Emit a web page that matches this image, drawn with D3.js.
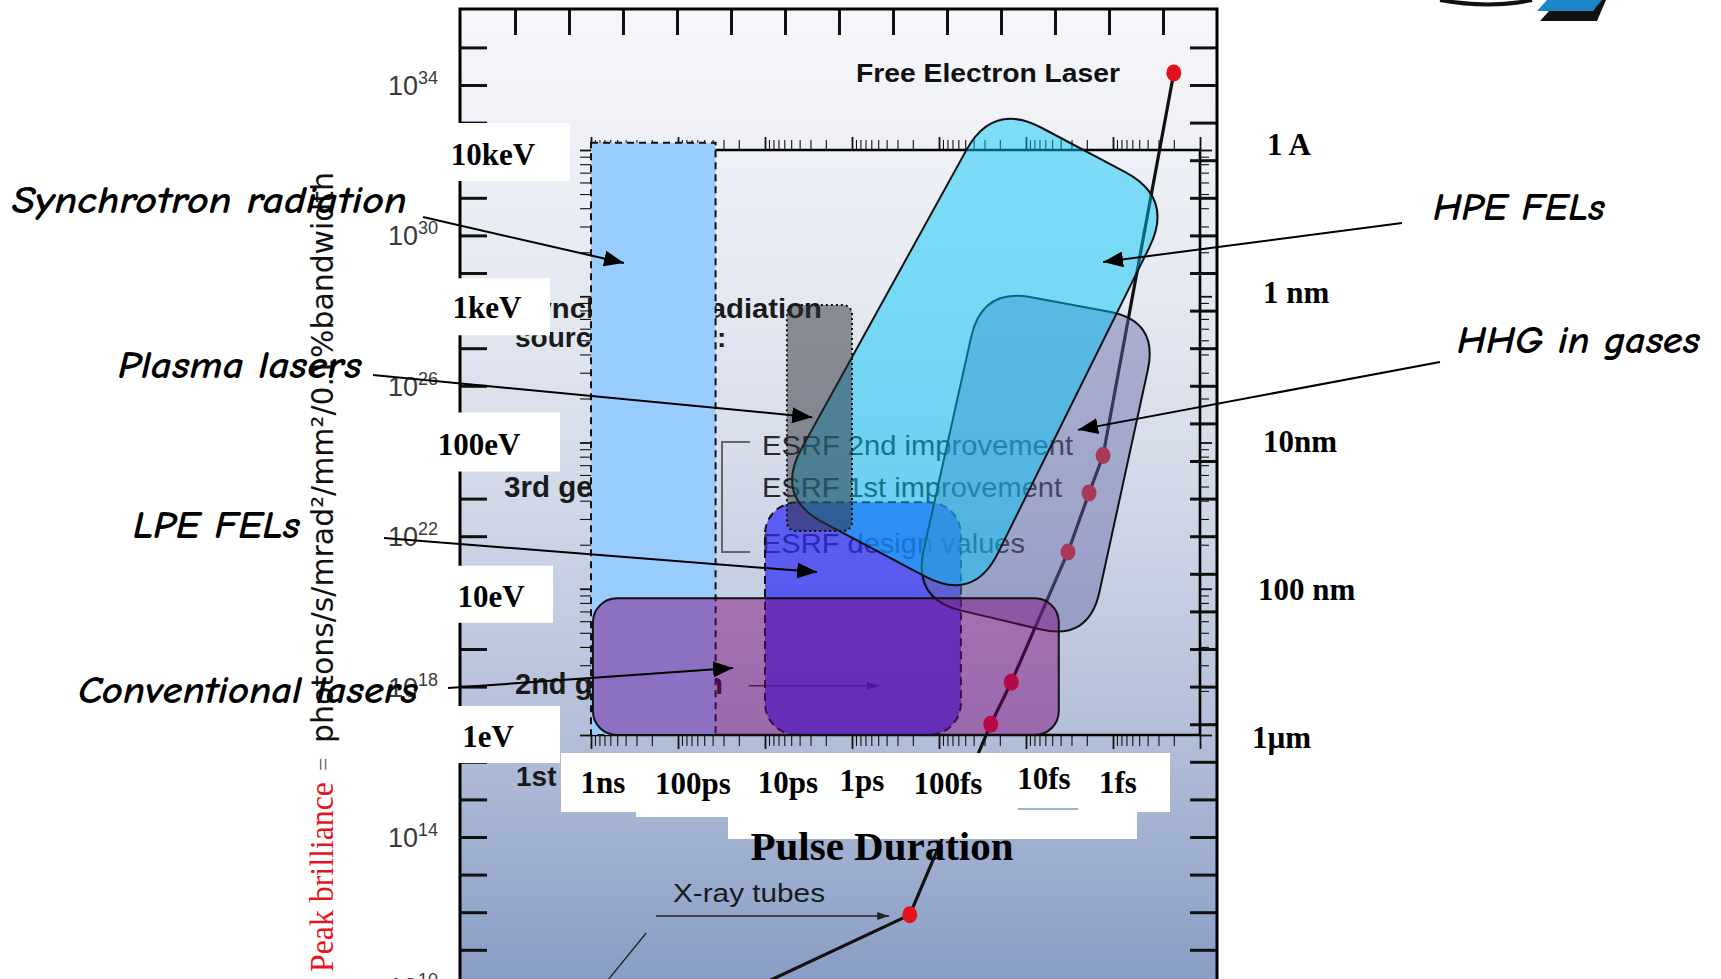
<!DOCTYPE html>
<html><head><meta charset="utf-8">
<script src="https://cdn.jsdelivr.net/npm/d3@7"></script>
<style>
html,body{margin:0;padding:0;background:#fff;}
svg{display:block;}
</style></head><body>
<svg id="chart" width="1721" height="979"></svg>
<script>
// ================= DATA =================
// Background chart (brilliance evolution) – unlabeled top ticks and decade ticks
const outerTickIdx = d3.range(1, 14);
const outerDecades = d3.range(11, 36);
const outerLabelExps = [34, 30, 26, 22, 18, 14, 10];

// brilliance line: points with dots (x = position index on the unlabeled axis, B = brilliance)
const brillPointX = [13.20, 11.89, 11.63, 11.24, 10.19, 9.81, 8.31];
const brillPointB = [2.1e34, 1.4e24, 1.4e23, 3.8e21, 1.3e18, 1.0e17, 8.5e11];
const brillTailX = [5.3];
const brillTailB = [8e9];
const xrayPointerX = [3.43, 2.57];
const xrayPointerB = [2.8e11, 8.5e9];
const xrayArrowX = [3.61, 7.93];
const xrayArrowB = [7.9e11, 7.9e11];
const gen2ArrowX = [5.33, 7.74];
const gen2ArrowB = [1.05e18, 1.05e18];

// Overlay chart axes
const durationTicks = [1e-9, 1e-10, 1e-11, 1e-12, 1e-13, 1e-14, 1e-15];
const durationLabels = ["1ns", "100ps", "10ps", "1ps", "100fs", "10fs", "1fs"];
const energyTicks = [1e4, 1e3, 1e2, 10, 1];
const energyLabels = ["10keV", "1keV", "100eV", "10eV", "1eV"];
const wavelengthTicks = [0.1, 1, 10, 100, 1000];           // nm
const wavelengthLabels = ["1 A", "1 nm", "10nm", "100 nm", "1µm"];

// Source regions (pulse duration in s, photon energy in eV)
const sourceNames = ["Synchrotron radiation", "Plasma lasers", "LPE FELs", "Conventional lasers", "HPE FELs", "HHG in gases"];
const synchrotronDuration = [1e-9, 3.7e-11];
const synchrotronEnergy = [1, 1.12e4];
const plasmaDuration = [5.6e-12, 1.0e-12];
const plasmaEnergy = [24.8, 870];
const lpeDuration = [1.0e-11, 5.6e-14];
const lpeEnergy = [1, 39];
const conventionalDuration = [9.5e-10, 4.2e-15];
const conventionalEnergy = [1, 8.6];
const hpeDuration = [7.7e-12, 2.4e-14, 2.0e-16, 4.0e-14];
const hpeEnergy = [42.4, 21300, 4700, 8.1];
const hhgDuration = [3.2e-14, 3.0e-16, 1.9e-15, 2.0e-13];
const hhgEnergy = [1138, 678, 4.4, 8.5];

// points the annotation arrows aim at (duration, energy), same order as sourceNames
const arrowTipDuration = [4.18e-10, 2.88e-12, 2.52e-12, 2.33e-11, 1.30e-15, 2.52e-15];
const arrowTipEnergy = [1687, 149, 13.0, 2.87, 1715, 122];

// ================= LAYOUT (pixel offsets of pasted label boxes) =================
const annotLayout = [
  {x: 12, y: 213, w: 395, sx: 423, sy: 217},
  {x: 118, y: 378, w: 244, sx: 373, sy: 375},
  {x: 133, y: 538, w: 167, sx: 384, sy: 538},
  {x: 78, y: 703, w: 340, sx: 448, sy: 688},
  {x: 1433, y: 220, w: 172, sx: 1402, sy: 223},
  {x: 1457, y: 353, w: 243, sx: 1440, sy: 362}
];
const energyBoxLayout = [
  {x0: 439, x1: 570, tx: 493, top: -27, bot: 31, dy: 15},
  {x0: 439, x1: 550, tx: 487, top: -18, bot: 39, dy: 22},
  {x0: 415, x1: 560, tx: 479, top: -30, bot: 29, dy: 12},
  {x0: 448, x1: 553, tx: 491, top: -23, bot: 34, dy: 18},
  {x0: 452, x1: 560, tx: 488, top: -29, bot: 28, dy: 12}
];
const durationLabelLayout = [
  {dx: 12, y: 793}, {dx: 15, y: 794}, {dx: 23, y: 793}, {dx: 10, y: 791},
  {dx: 9, y: 794}, {dx: 18, y: 789}, {dx: 5, y: 793}
];
const wavelengthLabelX = [1267, 1263, 1263, 1258, 1252];

const svg = d3.select("#chart");

// ================= SCALES =================
const oX = d3.scaleLinear().domain([0, 14]).range([461, 1217]);
const oY = d3.scaleLog().domain([1e10, 1e36]).range([987.4, 9.8]);
const tX = d3.scaleLog().domain([1e-9, 1e-16]).range([591, 1200]);
const eY = d3.scaleLog().domain([1, 1e4]).range([735, 150]);
const wY = d3.scaleLog().domain([0.1, 1000]).range([145, 738]);

const isDecade = v => Math.abs(Math.log10(v) - Math.round(Math.log10(v))) < 1e-6;

// ================= DEFS =================
const defs = svg.append("defs");
const grad = defs.append("linearGradient").attr("id", "bg").attr("x1", 0).attr("y1", 0).attr("x2", 0).attr("y2", 1);
[[0, "#f6f7fa"], [0.3, "#e4e8f1"], [0.5, "#d0d7e7"], [0.75, "#afbcd7"], [1, "#8399c3"]]
  .forEach(([o, c]) => grad.append("stop").attr("offset", o).attr("stop-color", c));
function marker(id, w, h, color) {
  defs.append("marker").attr("id", id).attr("viewBox", `0 0 ${w} ${h}`)
    .attr("refX", w).attr("refY", h / 2).attr("markerWidth", w).attr("markerHeight", h)
    .attr("markerUnits", "userSpaceOnUse").attr("orient", "auto")
    .append("path").attr("d", `M0,0L${w},${h / 2}L0,${h}Z`).attr("fill", color);
}
marker("ah", 20, 16, "#000");
marker("ahs", 12, 8, "#222");

// ================= BACKGROUND CHART =================
const outer = svg.append("g");
outer.append("rect").attr("x", 460).attr("y", 9).attr("width", 757).attr("height", 1000).attr("fill", "url(#bg)");

function plainAxis(gen, tr, size) {
  const g = outer.append("g").attr("transform", tr).call(gen.tickSize(size).tickSizeOuter(0).tickFormat(""));
  g.select(".domain").remove();
  g.selectAll(".tick line").attr("stroke", "#111").attr("stroke-width", 3);
  return g;
}
plainAxis(d3.axisBottom(oX).tickValues(outerTickIdx), "translate(0,9)", 26);
plainAxis(d3.axisRight(oY).tickValues(outerDecades.map(k => Math.pow(10, k))), "translate(460,0)", 27);
plainAxis(d3.axisLeft(oY).tickValues(outerDecades.map(k => Math.pow(10, k))), "translate(1217,0)", 27);

// texts of the background chart
const helv = "'Liberation Sans', Arial, Helvetica, sans-serif";
function otext(x, y, s, size, weight, fill, len) {
  const t = outer.append("text").attr("x", x).attr("y", y).text(s)
    .attr("font-family", helv).attr("font-size", size).attr("font-weight", weight).attr("fill", fill);
  if (len) t.attr("textLength", len).attr("lengthAdjust", "spacingAndGlyphs");
  return t;
}
otext(856, 82, "Free Electron Laser", 25, 700, "#111", 264);
otext(516, 318, "Synchrotron radiation", 28, 700, "#1a1a1a", 306);
otext(515, 347, "sources", 28, 700, "#1a1a1a");
otext(717, 347, ":", 28, 700, "#1a1a1a");
otext(504, 497, "3rd generation", 29, 700, "#1a1a1a", 205);
otext(515, 694, "2nd generation", 29, 700, "#1a1a1a", 208);
otext(516, 786, "1st generation", 28, 700, "#1a1a1a");
otext(762, 455, "ESRF 2nd improvement", 28, 400, "#2a2a2a", 311);
otext(762, 497, "ESRF 1st improvement", 28, 400, "#2a2a2a", 300);
otext(762, 553, "ESRF design values", 28, 400, "#2a2a2a", 263);
outer.append("path").attr("d", "M750,442H722V552H750").attr("fill", "none").attr("stroke", "#666").attr("stroke-width", 2);
otext(673, 902, "X-ray tubes", 26, 400, "#1a1a1a", 152);

const oline = d3.line().x(d => oX(d[0])).y(d => oY(d[1]));
outer.append("path").datum(xrayArrowX.map((x, i) => [x, xrayArrowB[i]]))
  .attr("d", oline).attr("stroke", "#222").attr("stroke-width", 1.6).attr("fill", "none").attr("marker-end", "url(#ahs)");
outer.append("path").datum(gen2ArrowX.map((x, i) => [x, gen2ArrowB[i]]))
  .attr("d", oline).attr("stroke", "#333").attr("stroke-width", 1.6).attr("fill", "none").attr("marker-end", "url(#ahs)");
outer.append("path").datum(xrayPointerX.map((x, i) => [x, xrayPointerB[i]]))
  .attr("d", oline).attr("stroke", "#222").attr("stroke-width", 1.3).attr("fill", "none");
const brillPts = brillPointX.map((x, i) => [x, brillPointB[i]]);
outer.append("path").datum(brillPts.concat(brillTailX.map((x, i) => [x, brillTailB[i]])))
  .attr("d", oline).attr("stroke", "#111").attr("stroke-width", 3.2).attr("fill", "none");
outer.selectAll("ellipse.dot").data(brillPts).join("ellipse").attr("class", "dot")
  .attr("cx", d => oX(d[0])).attr("cy", d => oY(d[1])).attr("rx", 7.5).attr("ry", 8.5).attr("fill", "#e3121d");

// outer frame
outer.append("path").attr("d", "M460,1000V9H1217V1000").attr("fill", "none").attr("stroke", "#000").attr("stroke-width", 3);

// ================= OVERLAY CHART AXES =================
const inner = svg.append("g");
function logAxis(gen, tr, minor, major, attr, sign) {
  const g = inner.append("g").attr("transform", tr).call(gen.tickSize(minor).tickSizeOuter(0).tickFormat(""));
  g.select(".domain").remove();
  g.selectAll(".tick line").attr(attr, d => sign * (isDecade(d) ? major : minor))
    .attr("stroke", "#111").attr("stroke-width", d => isDecade(d) ? 1.8 : 1.1);
  return g;
}
logAxis(d3.axisTop(tX), `translate(0,${eY(1e4)})`, 10, 13, "y2", -1);
logAxis(d3.axisBottom(tX), `translate(0,${eY(1)})`, 11, 14, "y2", 1);
logAxis(d3.axisLeft(eY), `translate(${tX(1e-9)},0)`, 11, 11, "x2", -1);
logAxis(d3.axisRight(eY), `translate(${tX(1e-16)},0)`, 9, 12, "x2", 1);
const [tx0, tx1] = tX.range(), [ey0, ey1] = eY.range();
inner.append("path").attr("d", `M${tx0},${ey1}H${tx1}V${ey0}H${tx0}`)
  .attr("fill", "none").attr("stroke", "#000").attr("stroke-width", 2.6);

// ================= SOURCE REGIONS =================
function roundedPoly(pts, r) {
  const n = pts.length; let d = "";
  for (let i = 0; i < n; i++) {
    const p0 = pts[(i - 1 + n) % n], p1 = pts[i], p2 = pts[(i + 1) % n];
    const l1 = Math.hypot(p0[0] - p1[0], p0[1] - p1[1]), l2 = Math.hypot(p2[0] - p1[0], p2[1] - p1[1]);
    const rr = Math.min(r, l1 / 2, l2 / 2);
    const a = [p1[0] + (p0[0] - p1[0]) / l1 * rr, p1[1] + (p0[1] - p1[1]) / l1 * rr];
    const b = [p1[0] + (p2[0] - p1[0]) / l2 * rr, p1[1] + (p2[1] - p1[1]) / l2 * rr];
    d += (i === 0 ? "M" : "L") + a[0] + "," + a[1] + "Q" + p1[0] + "," + p1[1] + " " + b[0] + "," + b[1];
  }
  return d + "Z";
}
function rectRegion(dur, en, rx, fill, op, dash) {
  const x0 = tX(dur[0]), x1 = tX(dur[1]), y0 = eY(en[1]), y1 = eY(en[0]);
  const r = inner.append("rect").attr("x", x0).attr("y", y0).attr("width", x1 - x0).attr("height", y1 - y0)
    .attr("rx", rx).attr("fill", fill).attr("fill-opacity", op)
    .attr("stroke", "#111").attr("stroke-width", 2);
  if (dash) r.attr("stroke-dasharray", dash);
  return r;
}
function polyRegion(dur, en, rad, fill, op) {
  const pts = dur.map((t, i) => [tX(t), eY(en[i])]);
  return inner.append("path").attr("d", roundedPoly(pts, rad)).attr("fill", fill).attr("fill-opacity", op)
    .attr("stroke", "#111").attr("stroke-width", 2);
}
rectRegion(synchrotronDuration, synchrotronEnergy, 0, "#99ccff", 1, "7,5");
rectRegion(lpeDuration, lpeEnergy, 32, "#2b28f3", 0.7, "8,5");
polyRegion(hhgDuration, hhgEnergy, 50, "#6468a8", 0.45);
polyRegion(hpeDuration, hpeEnergy, 55, "#00c7f8", 0.48);
rectRegion(plasmaDuration, plasmaEnergy, 9, "#2c3037", 0.5, "2,3");
rectRegion(conventionalDuration, conventionalEnergy, 24, "#7f0078", 0.45, null);

// ================= LABEL BOXES AND AXIS LABELS =================
const labels = svg.append("g");
const serif = "'Liberation Serif', 'Times New Roman', serif";
// energy (left)
energyTicks.forEach((v, i) => {
  const L = energyBoxLayout[i];
  labels.append("rect").attr("x", L.x0).attr("y", eY(v) + L.top).attr("width", L.x1 - L.x0).attr("height", L.bot - L.top).attr("fill", "#fff");
  labels.append("text").attr("x", L.tx).attr("y", eY(v) + L.dy).attr("text-anchor", "middle")
    .attr("font-family", serif).attr("font-weight", 700).attr("font-size", 31).attr("fill", "#000").text(energyLabels[i]);
});
// duration (bottom)
labels.append("rect").attr("x", 561).attr("y", 753).attr("width", 609).attr("height", 59).attr("fill", "#fff");
labels.append("rect").attr("x", 636).attr("y", 811).attr("width", 92).attr("height", 6).attr("fill", "#fff");
labels.append("rect").attr("x", 728).attr("y", 811).attr("width", 409).attr("height", 28).attr("fill", "#fff");
labels.append("line").attr("x1", 1018).attr("x2", 1078).attr("y1", 809).attr("y2", 809).attr("stroke", "#9fb2d2").attr("stroke-width", 2);
durationTicks.forEach((v, i) => {
  const L = durationLabelLayout[i];
  labels.append("text").attr("x", tX(v) + L.dx).attr("y", L.y).attr("text-anchor", "middle")
    .attr("font-family", serif).attr("font-weight", 700).attr("font-size", 31).attr("fill", "#000").text(durationLabels[i]);
});
labels.append("text").attr("x", 882).attr("y", 860).attr("text-anchor", "middle")
  .attr("font-family", serif).attr("font-weight", 700).attr("font-size", 41).attr("fill", "#000").text("Pulse Duration");
// wavelength (right)
wavelengthTicks.forEach((v, i) => {
  labels.append("text").attr("x", wavelengthLabelX[i]).attr("y", wY(v) + 10)
    .attr("font-family", serif).attr("font-weight", 700).attr("font-size", 31).attr("fill", "#000").text(wavelengthLabels[i]);
});
// outer brilliance tick labels
outerLabelExps.forEach(k => {
  const t = labels.append("text").attr("x", 438).attr("y", oY(Math.pow(10, k)) + 10).attr("text-anchor", "end")
    .attr("font-family", helv).attr("font-size", 27).attr("fill", "#3a3a3a");
  t.append("tspan").text("10");
  t.append("tspan").attr("dy", -11).attr("font-size", 18).text(k);
});

// y title (rotated)
labels.append("text").attr("transform", "translate(333,972) rotate(-90)")
  .attr("font-family", serif).attr("font-size", 34).attr("fill", "#e8141c")
  .attr("textLength", 190).attr("lengthAdjust", "spacingAndGlyphs").text("Peak brilliance");
labels.append("text").attr("transform", "translate(331,771) rotate(-90)")
  .attr("font-family", serif).attr("font-size", 24).attr("fill", "#555").text("=");
labels.append("text").attr("transform", "translate(333,743) rotate(-90)")
  .attr("font-family", "'DejaVu Sans', sans-serif").attr("font-size", 30).attr("fill", "#111")
  .attr("textLength", 571).attr("lengthAdjust", "spacingAndGlyphs").text("photons/s/mrad²/mm²/0.1%bandwidth");

// ================= ANNOTATIONS =================
const ann = svg.append("g");
sourceNames.forEach((name, i) => {
  const L = annotLayout[i];
  ann.append("line").attr("x1", L.sx).attr("y1", L.sy)
    .attr("x2", tX(arrowTipDuration[i])).attr("y2", eY(arrowTipEnergy[i]))
    .attr("stroke", "#000").attr("stroke-width", 2).attr("marker-end", "url(#ah)");
  ann.append("text").attr("x", L.x).attr("y", L.y).text(name)
    .attr("font-family", "'Comic Sans MS', 'Comic Neue', Lato, sans-serif")
    .attr("font-style", "italic").attr("font-weight", 700).attr("font-size", 38).attr("fill", "#000")
    .attr("textLength", L.w).attr("lengthAdjust", "spacingAndGlyphs");
});

// ================= LOGO (top right, cropped) =================
const logo = svg.append("g");
logo.append("path").attr("d", "M1440,0Q1490,9 1532,0").attr("fill", "none").attr("stroke", "#111").attr("stroke-width", 4);
logo.append("path").attr("d", "M1540,21L1559,0L1606,0L1597,21Z").attr("fill", "#111");
logo.append("path").attr("d", "M1537,11L1547,0L1602,0L1593,11Z").attr("fill", "#1a86c8");
</script>
</body></html>
